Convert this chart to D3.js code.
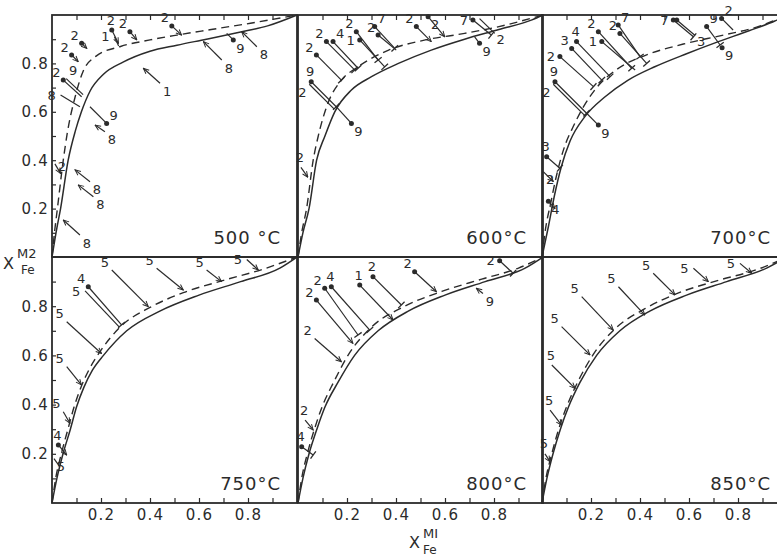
<!DOCTYPE html>
<html><head><meta charset="utf-8">
<script src="https://cdn.jsdelivr.net/npm/d3@7/dist/d3.min.js"></script>
<style>body{margin:0;background:#fff}svg{display:block}</style>
</head><body><svg id="c" width="777" height="558"></svg>
<script>
// ---------- data ----------
const temps = ["500 °C", "600°C", "700°C", "750°C", "800°C", "850°C"];
const xTickLabels = [0.2, 0.4, 0.6, 0.8];
const yTickLabels = [0.2, 0.4, 0.6, 0.8];
const minorTicks = [0.1, 0.2, 0.3, 0.4, 0.5, 0.6, 0.7, 0.8, 0.9];

// curves: [X_Fe^M1, X_Fe^M2]
const solid500 = [[0,0],[0.02,0.12],[0.035,0.2],[0.066,0.4],[0.095,0.52],[0.12,0.6],[0.155,0.685],[0.21,0.755],[0.29,0.805],[0.40,0.85],[0.51,0.875],[0.63,0.9],[0.77,0.93],[0.88,0.955],[1,1]];
const dashed500 = [[0,0],[0.01,0.1],[0.022,0.2],[0.046,0.4],[0.062,0.51],[0.094,0.66],[0.128,0.77],[0.18,0.83],[0.28,0.87],[0.40,0.897],[0.51,0.917],[0.65,0.94],[0.81,0.966],[1,1]];
const solid600 = [[0,0],[0.02,0.1],[0.045,0.2],[0.076,0.4],[0.11,0.5],[0.15,0.6],[0.218,0.69],[0.30,0.745],[0.41,0.80],[0.544,0.855],[0.68,0.90],[0.82,0.94],[0.955,0.98],[1,1]];
const dashed600 = [[0,0],[0.015,0.1],[0.035,0.2],[0.062,0.4],[0.082,0.497],[0.122,0.635],[0.177,0.73],[0.245,0.786],[0.37,0.855],[0.52,0.897],[0.68,0.924],[0.82,0.952],[1,1]];
const solid700 = [[0,0],[0.026,0.125],[0.05,0.25],[0.078,0.37],[0.115,0.48],[0.175,0.58],[0.255,0.66],[0.35,0.73],[0.46,0.786],[0.59,0.84],[0.72,0.89],[0.845,0.935],[0.95,0.975],[1,1]];
const dashed700 = [[0,0],[0.015,0.12],[0.035,0.22],[0.06,0.34],[0.09,0.45],[0.128,0.54],[0.169,0.62],[0.223,0.70],[0.305,0.775],[0.427,0.835],[0.577,0.88],[0.74,0.917],[0.876,0.95],[1,1]];
const solid750 = [[0,0],[0.02,0.1],[0.045,0.2],[0.075,0.3],[0.1,0.39],[0.13,0.47],[0.165,0.54],[0.21,0.60],[0.305,0.70],[0.44,0.78],[0.60,0.845],[0.77,0.90],[0.93,0.955],[1,1]];
const dashed750 = [[0,0],[0.015,0.1],[0.038,0.2],[0.065,0.3],[0.09,0.39],[0.118,0.47],[0.15,0.54],[0.196,0.615],[0.278,0.715],[0.40,0.795],[0.536,0.855],[0.70,0.905],[0.86,0.95],[1,1]];
const solid800 = [[0,0],[0.02,0.1],[0.045,0.2],[0.077,0.3],[0.11,0.39],[0.163,0.49],[0.231,0.60],[0.327,0.70],[0.45,0.78],[0.60,0.845],[0.764,0.90],[0.927,0.955],[1,1]];
const dashed800 = [[0,0],[0.015,0.1],[0.038,0.2],[0.067,0.3],[0.098,0.39],[0.145,0.49],[0.204,0.6],[0.30,0.715],[0.436,0.80],[0.587,0.86],[0.75,0.91],[0.90,0.955],[1,1]];
const solid850 = [[0,0],[0.02,0.1],[0.045,0.2],[0.075,0.3],[0.108,0.39],[0.155,0.49],[0.223,0.60],[0.318,0.70],[0.44,0.78],[0.59,0.845],[0.754,0.90],[0.917,0.955],[1,1]];
const dashed850 = [[0,0],[0.016,0.1],[0.04,0.2],[0.068,0.3],[0.1,0.39],[0.145,0.49],[0.21,0.605],[0.30,0.71],[0.42,0.79],[0.56,0.855],[0.72,0.905],[0.88,0.95],[1,1]];

// tie lines: [x1, y1, x2, y2, label, labelSide, dotAtStart, endMark(a=arrow,b=bar,n=none)]
const arrows500 = [
  [0.121,0.883,0.142,0.862,"2","nw",1,"a"],
  [0.080,0.835,0.107,0.807,"2","nw",1,"a"],
  [0.244,0.938,0.271,0.883,"2","n",1,"a"],
  [0.255,0.91,0.272,0.872,"1","w",0,"n"],
  [0.318,0.931,0.346,0.897,"2","nw",1,"a"],
  [0.489,0.955,0.529,0.917,"2","nw",1,"a"],
  [0.046,0.731,0.121,0.662,"2","nw",1,"n"],
  [0.058,0.737,0.127,0.671,"9","ne",0,"n"],
  [0.035,0.669,0.114,0.621,"8","w",0,"n"],
  [0.223,0.552,0.155,0.621,"9","ne",1,"n"],
  [0.216,0.518,0.176,0.545,"8","se",0,"a"],
  [0.441,0.718,0.373,0.780,"1","se",0,"a"],
  [0.693,0.814,0.618,0.890,"8","se",0,"a"],
  [0.836,0.869,0.774,0.931,"8","se",0,"a"],
  [0.74,0.897,0.713,0.924,"9","se",1,"n"],
  [0.155,0.311,0.094,0.36,"8","se",0,"a"],
  [0.169,0.249,0.107,0.298,"8","se",0,"a"],
  [0.114,0.091,0.046,0.153,"8","se",0,"a"],
  [0.012,0.385,0.035,0.345,"2","e",0,"a"]
];
const arrows600 = [
  [0.075,0.835,0.177,0.731,"2","nw",1,"b"],
  [0.116,0.890,0.231,0.773,"2","nw",1,"b"],
  [0.143,0.890,0.245,0.78,"4","ne",1,"b"],
  [0.238,0.931,0.327,0.814,"2","nw",1,"b"],
  [0.252,0.897,0.354,0.786,"1","w",1,"b"],
  [0.313,0.952,0.395,0.862,"7","ne",1,"b"],
  [0.327,0.917,0.401,0.855,"2","nw",1,"n"],
  [0.483,0.952,0.544,0.890,"2","nw",1,"a"],
  [0.531,0.993,0.599,0.91,"2","se",1,"a"],
  [0.714,0.979,0.789,0.917,"7","w",1,"b"],
  [0.741,0.985,0.803,0.924,"2","ee",0,"n"],
  [0.741,0.883,0.721,0.91,"9","se",1,"n"],
  [0.054,0.724,0.156,0.621,"9","n",1,"b"],
  [0.046,0.714,0.148,0.611,"2","sw",0,"n"],
  [0.218,0.552,0.156,0.621,"9","se",1,"n"],
  [0.012,0.37,0.04,0.33,"2","n",0,"a"]
];
const arrows700 = [
  [0.053,0.724,0.182,0.594,"9","n",1,"b"],
  [0.046,0.714,0.175,0.584,"2","sw",0,"n"],
  [0.23,0.545,0.182,0.594,"9","se",1,"n"],
  [0.073,0.828,0.21,0.704,"2","w",1,"b"],
  [0.121,0.862,0.244,0.731,"3","nw",1,"b"],
  [0.141,0.89,0.278,0.745,"4","n",1,"b"],
  [0.23,0.931,0.366,0.78,"2","nw",1,"b"],
  [0.244,0.89,0.38,0.773,"1","w",1,"n"],
  [0.311,0.959,0.40,0.828,"7","ne",1,"b"],
  [0.318,0.924,0.427,0.80,"2","nw",1,"b"],
  [0.536,0.979,0.618,0.91,"7","w",1,"b"],
  [0.55,0.979,0.625,0.915,"3","ee",1,"n"],
  [0.672,0.952,0.727,0.876,"9","ne",1,"b"],
  [0.735,0.865,0.735,0.865,"9","se",1,"n"],
  [0.733,0.986,0.78,0.938,"2","ne",1,"n"],
  [0.019,0.414,0.073,0.367,"3","n",1,"b"],
  [0.005,0.353,0.046,0.312,"2","se",0,"a"],
  [0.026,0.23,0.053,0.20,"4","se",1,"a"]
];
const arrows750 = [
  [0.244,0.947,0.393,0.798,"5","nw",0,"a"],
  [0.427,0.954,0.536,0.866,"5","nw",0,"a"],
  [0.631,0.947,0.692,0.90,"5","nw",0,"a"],
  [0.795,0.99,0.842,0.947,"5","w",0,"a"],
  [0.148,0.879,0.284,0.724,"4","nw",1,"b"],
  [0.135,0.862,0.275,0.715,"5","w",0,"n"],
  [0.06,0.737,0.202,0.608,"5","nw",0,"a"],
  [0.06,0.554,0.12,0.48,"5","nw",0,"a"],
  [0.046,0.371,0.073,0.324,"5","nw",0,"a"],
  [0.026,0.236,0.06,0.195,"4","n",1,"a"],
  [0.008,0.18,0.03,0.15,"5","se",0,"n"]
];
const arrows800 = [
  [0.068,0.669,0.177,0.574,"2","nw",0,"a"],
  [0.075,0.825,0.224,0.649,"2","nw",1,"a"],
  [0.109,0.873,0.245,0.683,"2","nw",1,"b"],
  [0.136,0.879,0.293,0.703,"4","n",1,"b"],
  [0.252,0.886,0.388,0.744,"1","n",1,"a"],
  [0.306,0.92,0.422,0.805,"2","n",1,"b"],
  [0.476,0.94,0.565,0.859,"2","nw",1,"a"],
  [0.823,0.985,0.878,0.934,"2","w",1,"b"],
  [0.755,0.852,0.728,0.873,"9","se",0,"a"],
  [0.029,0.337,0.062,0.297,"2","n",0,"a"],
  [0.015,0.229,0.062,0.195,"4","n",1,"b"]
];
const arrows850 = [
  [0.012,0.2,0.033,0.168,"5","n",0,"a"],
  [0.033,0.378,0.08,0.317,"5","n",0,"a"],
  [0.04,0.561,0.135,0.466,"5","n",0,"a"],
  [0.08,0.717,0.196,0.602,"5","nw",0,"a"],
  [0.162,0.839,0.291,0.703,"5","nw",0,"a"],
  [0.312,0.879,0.42,0.764,"5","nw",0,"a"],
  [0.454,0.934,0.543,0.846,"5","nw",0,"a"],
  [0.618,0.954,0.679,0.90,"5","w",0,"a"],
  [0.808,0.974,0.856,0.934,"5","w",0,"a"]
];

// ---------- drawing ----------
const INK = "#2b2b2b";
const FONT = "'DejaVu Sans', sans-serif";
const svg = d3.select("#c");
svg.append("defs").append("marker")
  .attr("id","ah").attr("viewBox","0 0 10 10").attr("refX",9).attr("refY",5)
  .attr("markerWidth",7).attr("markerHeight",7).attr("markerUnits","userSpaceOnUse")
  .attr("orient","auto")
  .append("path").attr("d","M1,1.5 L9,5 L1,8.5").attr("fill","none").attr("stroke",INK).attr("stroke-width",1.4);

const panelLeft = [52, 298, 542];
const rowTop = [15, 257];
const rowH = [242, 246];
const W = 245;
const panels = [
  {t:temps[0], s:solid500, d:dashed500, a:arrows500},
  {t:temps[1], s:solid600, d:dashed600, a:arrows600},
  {t:temps[2], s:solid700, d:dashed700, a:arrows700},
  {t:temps[3], s:solid750, d:dashed750, a:arrows750},
  {t:temps[4], s:solid800, d:dashed800, a:arrows800},
  {t:temps[5], s:solid850, d:dashed850, a:arrows850}
];
const labelOff = {nw:[-7,-8], ne:[7,-8], n:[-1,-10], w:[-9,0], e:[7,3], sw:[-7,8], se:[7,8], ee:[0,0]};

panels.forEach((p,i) => {
  const col = i % 3, row = Math.floor(i / 3);
  const x = d3.scaleLinear([0,1],[panelLeft[col], panelLeft[col] + W]);
  const y = d3.scaleLinear([0,1],[rowTop[row] + rowH[row], rowTop[row]]);
  const g = svg.append("g");

  // minor ticks
  if (row === 0) {
    g.append("g").attr("transform",`translate(0,${y(1)})`)
      .call(d3.axisTop(x).tickValues(minorTicks).tickSize(-5).tickFormat(""))
      .call(a => { a.select(".domain").remove(); a.selectAll("line").attr("stroke",INK).attr("stroke-width",1.2); });
  } else {
    g.append("g").attr("transform",`translate(0,${y(0)})`)
      .call(d3.axisBottom(x).tickValues(minorTicks).tickSize(-5).tickFormat(""))
      .call(a => { a.select(".domain").remove(); a.selectAll("line").attr("stroke",INK).attr("stroke-width",1.2); });
    g.append("g").attr("transform",`translate(0,${y(0)})`)
      .call(d3.axisBottom(x).tickValues(xTickLabels).tickSize(0).tickPadding(6).tickFormat(d3.format(".1f")))
      .call(a => { a.select(".domain").remove(); a.selectAll("text").attr("font-family",FONT).attr("font-size",15).attr("letter-spacing",1.2).attr("fill",INK); });
  }
  if (col === 0) {
    g.append("g").attr("transform",`translate(${x(0)},0)`)
      .call(d3.axisLeft(y).tickValues(minorTicks).tickSize(-4).tickFormat(""))
      .call(a => { a.select(".domain").remove(); a.selectAll("line").attr("stroke",INK).attr("stroke-width",1.2); });
    g.append("g").attr("transform",`translate(${x(0)},0)`)
      .call(d3.axisLeft(y).tickValues(yTickLabels).tickSize(0).tickPadding(3).tickFormat(d3.format(".1f")))
      .call(a => { a.select(".domain").remove(); a.selectAll("text").attr("font-family",FONT).attr("font-size",15).attr("letter-spacing",1.2).attr("fill",INK); });
  }

  // border
  g.append("rect").attr("x",x(0)).attr("y",y(1)).attr("width",W).attr("height",rowH[row])
    .attr("fill","none").attr("stroke",INK).attr("stroke-width",1.8);

  const line = d3.line().x(d => x(d[0])).y(d => y(d[1])).curve(d3.curveMonotoneX);
  g.append("path").attr("d",line(p.s)).attr("fill","none").attr("stroke",INK).attr("stroke-width",1.5);
  g.append("path").attr("d",line(p.d)).attr("fill","none").attr("stroke",INK).attr("stroke-width",1.4).attr("stroke-dasharray","8,5");

  // tie lines
  p.a.forEach(r => {
    const [x1,y1,x2,y2,lab,side,dot,end] = r;
    const X1 = x(x1), Y1 = y(y1), X2 = x(x2), Y2 = y(y2);
    if (X1 !== X2 || Y1 !== Y2) {
      const ln = g.append("line").attr("x1",X1).attr("y1",Y1).attr("x2",X2).attr("y2",Y2)
        .attr("stroke",INK).attr("stroke-width",1.2);
      if (end === "a") ln.attr("marker-end","url(#ah)");
      if (end === "b") {
        const dx = X2 - X1, dy = Y2 - Y1, L = Math.hypot(dx,dy);
        const px = -dy / L * 4.5, py = dx / L * 4.5;
        g.append("line").attr("x1",X2 - px).attr("y1",Y2 - py).attr("x2",X2 + px).attr("y2",Y2 + py)
          .attr("stroke",INK).attr("stroke-width",1.3);
      }
    }
    if (dot) g.append("circle").attr("cx",X1).attr("cy",Y1).attr("r",2.5).attr("fill",INK);
    let lx, ly;
    if (side === "ee") { lx = X2 + 6; ly = Y2 + 6; }
    else { lx = X1 + labelOff[side][0]; ly = Y1 + labelOff[side][1]; }
    g.append("text").attr("x",lx).attr("y",ly + 4.6).attr("text-anchor","middle")
      .attr("font-family",FONT).attr("font-size",13).attr("fill",INK).text(lab);
  });

  // temperature
  g.append("text").attr("x",x(0.935)).attr("y",y(0) - 13).attr("text-anchor","end")
    .attr("font-family",FONT).attr("font-size",18).attr("letter-spacing",1).attr("fill",INK).text(p.t);
});

// axis titles
const yt = svg.append("text").attr("font-family",FONT).attr("fill",INK);
yt.append("tspan").attr("x",3).attr("y",269).attr("font-size",16).text("X");
yt.append("tspan").attr("x",17).attr("y",258).attr("font-size",13).text("M2");
yt.append("tspan").attr("x",21).attr("y",274).attr("font-size",12).text("Fe");
const xt = svg.append("text").attr("font-family",FONT).attr("fill",INK);
xt.append("tspan").attr("x",409).attr("y",548).attr("font-size",16).text("X");
xt.append("tspan").attr("x",423).attr("y",538).attr("font-size",13).text("MI");
xt.append("tspan").attr("x",423).attr("y",554).attr("font-size",12).text("Fe");
</script>
</body></html>
